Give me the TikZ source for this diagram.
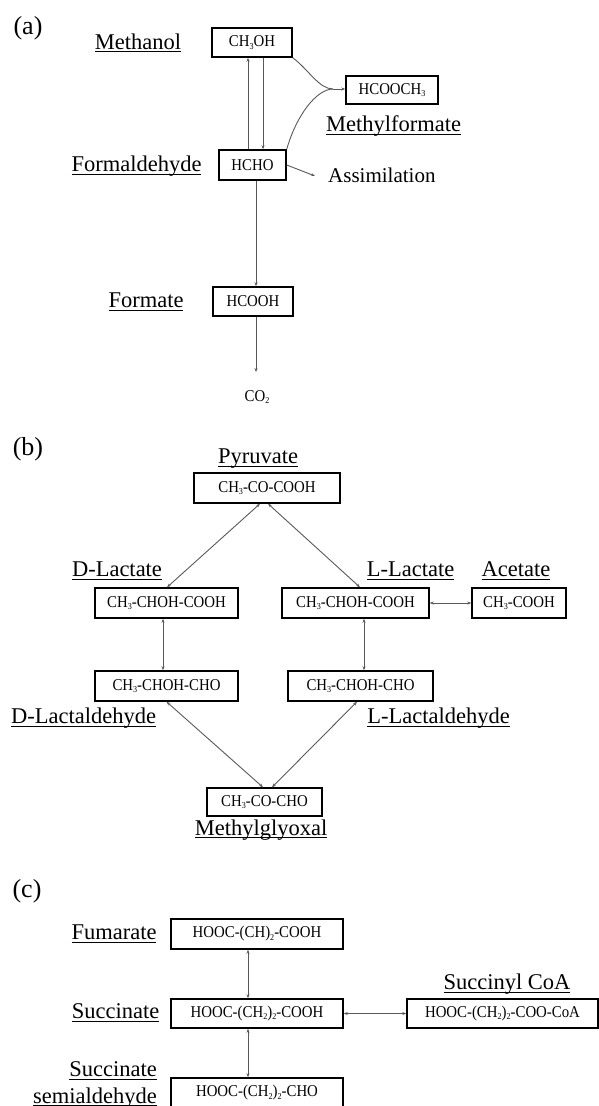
\documentclass[tikz,border=0pt]{standalone}
\usepackage{fontspec}
\setmainfont{Liberation Serif}
\newfontfamily\bxfont{Liberation Serif}[FakeStretch=0.9]
\usetikzlibrary{arrows.meta,calc}
\newcommand\ulbl[1]{\setbox0\hbox{#1}\rlap{\rule[-3.4pt]{\wd0}{1.2pt}}\box0}
\newcommand\sbs[1]{\raisebox{-2.5pt}{\fontsize{9}{9}\selectfont #1}}
\tikzset{
  chem/.style={draw=black, line width=1.4pt, inner sep=0pt, align=center,
    font=\bxfont\fontsize{16.5}{18}\selectfont},
  chemtxt/.style={inner sep=0pt, font=\bxfont\fontsize{16.5}{18}\selectfont},
  lbl/.style={inner sep=0pt, anchor=base, font=\fontsize{22.5}{26}\selectfont},
  asmlbl/.style={inner sep=0pt, anchor=base west, font=\fontsize{21}{24}\selectfont},
  pl/.style={inner sep=0pt, font=\fontsize{26}{30}\selectfont},
  ln/.style={draw=black!65, line width=0.9pt},
  arr/.style={ln, -{Stealth[length=4pt,width=3pt]}},
  darr/.style={ln, {Stealth[length=4pt,width=3pt]}-{Stealth[length=4pt,width=3pt]}},
}
\begin{document}
\begin{tikzpicture}[x=1pt,y=-1pt]
\useasboundingbox (0,0) rectangle (599,1106);

% ---------------- (a)
\node[pl] (la) at (28,28) {(a)};
\node[chem, minimum width=80pt, minimum height=29pt] (meth) at (252,42.5) {CH\sbs{3}OH};
\node[chem, minimum width=92pt, minimum height=28pt] (mf) at (392,90) {HCOOCH\sbs{3}};
\node[chem, minimum width=67pt, minimum height=30pt] (hcho) at (252.5,165) {HCHO};
\node[chem, minimum width=80pt, minimum height=29pt] (hcooh) at (253,301.5) {HCOOH};
\node[lbl] (tmeth) at (138,49) {\ulbl{Methanol}};
\node[lbl, anchor=base west] (tmf) at (326,131.5) {\ulbl{Methylformate}};
\node[lbl] (tfa) at (136.5,171.5) {\ulbl{Formaldehyde}};
\node[lbl] (tfo) at (146,307.5) {\ulbl{Formate}};
\node[asmlbl] (asm) at (328,182.7) {Assimilation};
\node[chemtxt] (co2) at (257,397) {CO\sbs{2}};
\coordinate (asmtip) at (315,176);
\coordinate (co2tip) at (256,372);
\coordinate (merge) at (333,89);

\draw[arr] ([xshift=-4.5pt]hcho.north) -- ([xshift=-4pt]meth.south);
\draw[arr] ([xshift=11pt]meth.south) -- ([xshift=10.5pt]hcho.north);
\draw[arr] ([xshift=3.5pt]hcho.south) -- ([xshift=3pt]hcooh.north);
\draw[arr] ([xshift=3pt]hcooh.south) -- (co2tip);
\draw[arr] (hcho.east) -- (asmtip);
\draw[ln] (meth.south east) .. controls +(16,12) and +(-14,0) .. (merge);
\draw[ln] (hcho.north east) .. controls +(10,-35) and +(-16,0) .. (merge);
\draw[arr] (merge) -- (merge -| mf.west);

% ---------------- (b)
\node[pl] (lb) at (28,449) {(b)};
\node[chem, minimum width=146pt, minimum height=30pt] (pyr) at (267,488) {CH\sbs{3}-CO-COOH};
\node[chem, minimum width=143pt, minimum height=30pt] (dlac) at (166.5,603) {CH\sbs{3}-CHOH-COOH};
\node[chem, minimum width=147pt, minimum height=30pt] (llac) at (355.5,603) {CH\sbs{3}-CHOH-COOH};
\node[chem, minimum width=94pt, minimum height=30pt] (ace) at (519,603) {CH\sbs{3}-COOH};
\node[chem, minimum width=143pt, minimum height=30pt] (dlald) at (166.5,686) {CH\sbs{3}-CHOH-CHO};
\node[chem, minimum width=145pt, minimum height=30pt] (llald) at (360.5,686) {CH\sbs{3}-CHOH-CHO};
\node[chem, minimum width=115pt, minimum height=28pt] (mg) at (264.5,802) {CH\sbs{3}-CO-CHO};
\node[lbl] (tpyr) at (258,463.3) {\ulbl{Pyruvate}};
\node[lbl] (tdlac) at (117,576.7) {\ulbl{D-Lactate}};
\node[lbl] (tllac) at (410.5,576.5) {\ulbl{L-Lactate}};
\node[lbl] (tace) at (516,576.5) {\ulbl{Acetate}};
\node[lbl] (tdlald) at (83.7,723.3) {\ulbl{D-Lactaldehyde}};
\node[lbl] (tllald) at (438.5,723.3) {\ulbl{L-Lactaldehyde}};
\node[lbl] (tmg) at (261,835) {\ulbl{Methylglyoxal}};

\draw[darr] ([xshift=-7pt]pyr.south) -- ([xshift=0.5pt]dlac.north);
\draw[darr] ([xshift=1pt]pyr.south) -- ([xshift=4.5pt]llac.north);
\draw[darr] ([xshift=-3.5pt]dlac.south) -- ([xshift=-3.5pt]dlald.north);
\draw[darr] ([xshift=8.5pt]llac.south) -- ([xshift=3.5pt]llald.north);
\draw[darr] (llac.east) -- (ace.west);
\draw[darr] (dlald.south) -- ([xshift=-1.5pt]mg.north);
\draw[darr] ([xshift=-3.5pt]llald.south) -- ([xshift=7.5pt]mg.north);

% ---------------- (c)
\node[pl] (lc) at (27,891) {(c)};
\node[chem, minimum width=172pt, minimum height=30pt] (fum) at (257,934) {HOOC-(CH)\sbs{2}-COOH};
\node[chem, minimum width=172pt, minimum height=29pt] (suc) at (257,1013.5) {HOOC-(CH\sbs{2})\sbs{2}-COOH};
\node[chem, minimum width=172pt, minimum height=30pt] (ssa) at (257,1093) {HOOC-(CH\sbs{2})\sbs{2}-CHO};
\node[chem, minimum width=191pt, minimum height=29pt] (scoa) at (502.5,1013.5) {HOOC-(CH\sbs{2})\sbs{2}-COO-CoA};
\node[lbl] (tfum) at (114,939.3) {\ulbl{Fumarate}};
\node[lbl] (tsuc) at (115.5,1018.3) {\ulbl{Succinate}};
\node[lbl, anchor=base east] (tssa1) at (157,1076.7) {\ulbl{Succinate}};
\node[lbl, anchor=base east] (tssa2) at (157,1103) {\ulbl{semialdehyde}};
\node[lbl] (tscoa) at (507,989.3) {\ulbl{Succinyl CoA}};

\draw[darr] ([xshift=-9pt]fum.south) -- ([xshift=-9pt]suc.north);
\draw[darr] ([xshift=-9pt]suc.south) -- ([xshift=-9pt]ssa.north);
\draw[darr] (suc.east) -- (scoa.west);
\end{tikzpicture}
\end{document}
